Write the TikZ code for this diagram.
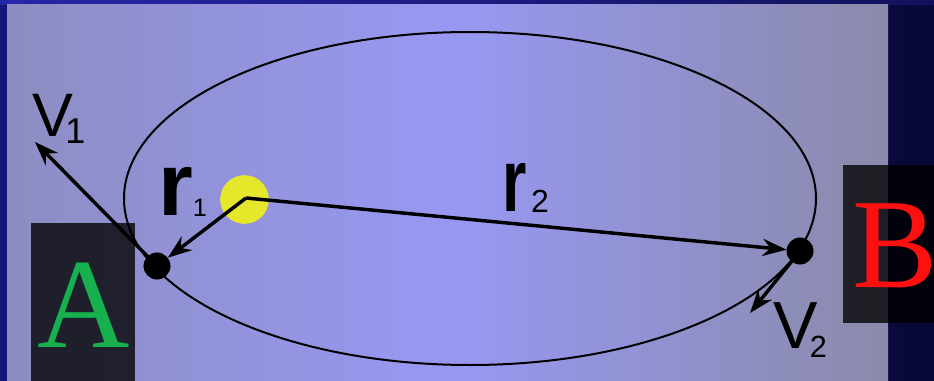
\documentclass[tikz,border=0pt]{standalone}
\usepackage{fontspec}
\setmainfont{Liberation Serif}
\setsansfont{Liberation Sans}
\newfontfamily\arialf{Liberation Sans}
\usetikzlibrary{arrows.meta}
\definecolor{bgl}{HTML}{161678}
\definecolor{bgr}{HTML}{080838}
\definecolor{topl}{HTML}{2626A8}
\definecolor{topr}{HTML}{12125C}
\definecolor{pl}{HTML}{8D8DC2}
\definecolor{pm}{HTML}{9898F4}
\definecolor{pr}{HTML}{8A8AAA}
\definecolor{sunc}{HTML}{E6E62A}
\definecolor{agreen}{HTML}{16B04E}
\definecolor{bred}{HTML}{FF1010}
\begin{document}
\begin{tikzpicture}[x=0.75pt,y=-0.75pt,
  arr/.style={line width=2.6pt, -{Stealth[length=18pt,width=13pt,inset=6pt]}},
  orbit/.style={line width=1.5pt},
  planet/.style={circle, fill=black, inner sep=0pt, minimum size=20pt},
  star/.style={circle, fill=sunc, inner sep=0pt, minimum size=36.5pt},
  shadebox/.style={fill=black, opacity=0.78},
  lbl/.style={inner sep=0pt, anchor=base, text=black}]
\useasboundingbox (0,0) rectangle (934,381);
% background
\shade[left color=bgl, right color=bgr] (0,0) rectangle (934,381);
\shade[left color=topl, right color=topr] (0,0) rectangle (934,5);
% panel
\shade[left color=pl, right color=pr, middle color=pm] (7,5) rectangle (888,381);
% dark boxes
\fill[shadebox] (31,223) rectangle (135,381);
\fill[shadebox] (843,165) rectangle (934,323);
% letters
\node[inner sep=0pt, text=agreen, font=\fontsize{96pt}{96pt}\selectfont] (la) at (83.5,305.5) {A};
\node[inner sep=0pt, text=bred, font=\fontsize{96pt}{96pt}\selectfont] (lb) at (895.5,245.5) {B};
% orbit
\draw[orbit] (470,198.5) ellipse [x radius=346, y radius=166.5];
% sun
\node[star] (sun) at (244.5,199.5) {};
% planets
\node[planet] (pa) at (157,266) {};
\node[planet] (pb) at (800,251) {};
\coordinate (v1tip) at (35,142);
\coordinate (v2tip) at (750,313);
\coordinate (sc) at (246,198);
% arrows
\draw[arr] (sc) -- (pa);
\draw[arr] (sc) -- (pb);
\draw[arr] (pa.center) -- (v1tip);
\draw[arr] (pb.center) -- (v2tip);
\node[planet] at (pa) {};
\node[planet] at (pb) {};
% labels
\node[lbl, font=\arialf\fontsize{46pt}{46pt}\selectfont] (v1) at (53,137) {V};
\node[lbl, font=\arialf\fontsize{27pt}{27pt}\selectfont] (v1s) at (75.5,143) {1};
\node[lbl, font=\arialf\fontsize{50pt}{50pt}\selectfont] (v2) at (796,348) {V};
\node[lbl, font=\arialf\fontsize{23pt}{23pt}\selectfont] (v2s) at (818.5,357) {2};
\node[lbl, font=\arialf\bfseries\fontsize{67pt}{67pt}\selectfont] (r1) at (176,215) {r};
\node[lbl, font=\arialf\fontsize{19pt}{19pt}\selectfont] (r1s) at (200,216) {1};
\node[lbl, font=\arialf\bfseries\fontsize{67pt}{67pt}\selectfont] (r2) at (515,211) {\scalebox{0.7}[1]{r}};
\node[lbl, font=\arialf\fontsize{24pt}{24pt}\selectfont] (r2s) at (540,212) {2};
\end{tikzpicture}
\end{document}
